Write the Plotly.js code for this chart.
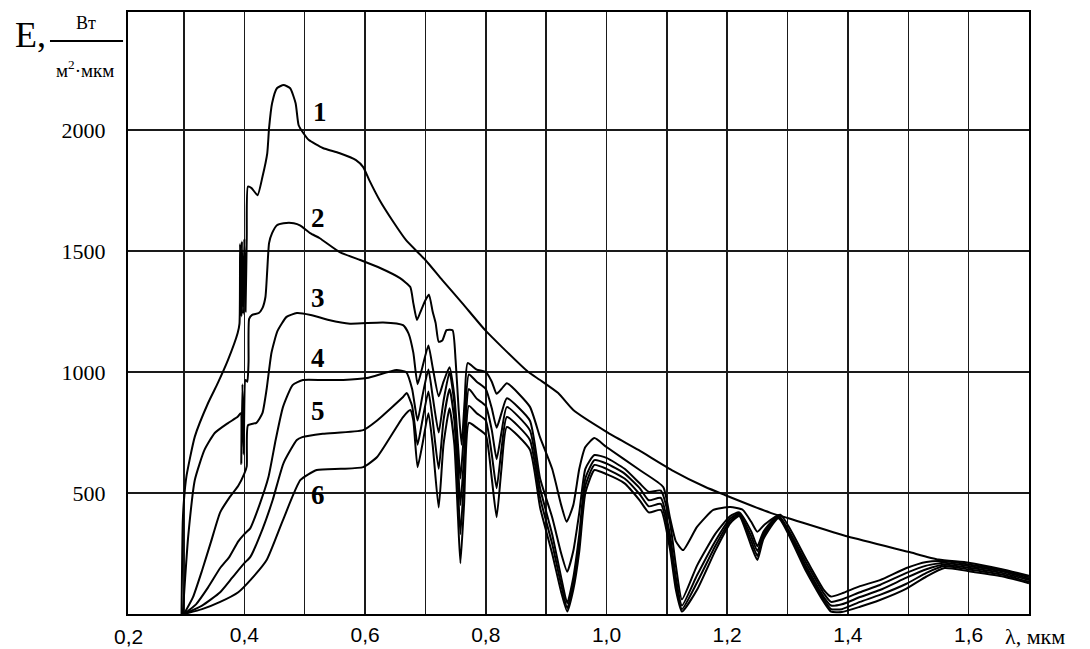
<!DOCTYPE html>
<html>
<head>
<meta charset="utf-8">
<script src="https://cdn.plot.ly/plotly-3.0.1.min.js"></script>
<style>html,body{margin:0;padding:0;background:#fff;}#chart{width:1090px;height:649px;}</style>
</head>
<body>
<div id="chart"></div>
<script>
// Curve 1
var x1 = [0.296,0.298,0.300,0.304,0.318,0.340,0.356,0.373,0.389,0.392,0.393,0.395,0.396,0.398,0.400,0.402,0.404,0.406,0.412,0.422,0.430,0.438,0.441,0.446,0.454,0.465,0.476,0.485,0.490,0.498,0.507,0.530,0.557,0.585,0.597,0.607,0.624,0.647,0.668,0.700,0.728,0.761,0.799,0.827,0.870,0.890,0.920,0.945,1.000,1.053,1.108,1.163,1.196,1.273,1.300,1.400,1.500,1.550,1.600,1.655,1.700];
var y1 = [0,380,470,567,733,872,954,1050,1161,1200,1530,1230,1540,1240,1550,1250,1555,1766,1760,1731,1806,1904,2008,2111,2173,2186,2173,2111,2020,1987,1959,1926,1905,1876,1847,1793,1711,1620,1545,1463,1380,1285,1173,1103,1001,967,913,843,753,678,595,526,492,417,397,320,257,225,212,185,158];
// Curve 2
var x2 = [0.298,0.302,0.307,0.318,0.334,0.351,0.373,0.389,0.394,0.395,0.397,0.399,0.402,0.405,0.407,0.408,0.413,0.424,0.430,0.435,0.438,0.441,0.446,0.454,0.465,0.482,0.493,0.509,0.525,0.558,0.592,0.625,0.658,0.675,0.680,0.686,0.692,0.700,0.706,0.712,0.717,0.722,0.728,0.735,0.745,0.750,0.755,0.760,0.765,0.770,0.785,0.800,0.810,0.818,0.826,0.835,0.873,0.890,0.910,0.925,0.934,0.945,0.955,0.965,0.980,1.000,1.055,1.094,1.105,1.115,1.127,1.150,1.177,1.205,1.226,1.240,1.250,1.262,1.288,1.330,1.360,1.372,1.390,1.420,1.453,1.497,1.530,1.560,1.600,1.655,1.700];
var y2 = [0,150,320,554,678,748,789,815,830,620,950,660,967,960,1040,1220,1236,1244,1264,1310,1421,1533,1574,1607,1615,1615,1605,1574,1553,1496,1463,1430,1388,1351,1285,1215,1250,1297,1320,1250,1202,1125,1130,1173,1173,1050,850,700,880,1037,1010,1000,960,910,930,954,857,730,600,450,381,450,600,690,727,690,595,525,400,300,264,360,430,442,430,380,340,370,410,230,100,72,85,115,140,190,215,218,205,182,152];
// Curve 3
var x3 = [0.300,0.315,0.330,0.345,0.360,0.375,0.390,0.400,0.404,0.406,0.420,0.430,0.437,0.445,0.455,0.470,0.487,0.510,0.540,0.575,0.630,0.663,0.672,0.680,0.687,0.695,0.705,0.712,0.722,0.730,0.740,0.748,0.754,0.758,0.764,0.772,0.785,0.800,0.810,0.818,0.826,0.835,0.873,0.890,0.910,0.925,0.935,0.945,0.955,0.965,0.980,1.000,1.030,1.055,1.070,1.090,1.105,1.115,1.125,1.150,1.180,1.205,1.220,1.240,1.250,1.260,1.285,1.330,1.360,1.372,1.390,1.420,1.453,1.497,1.530,1.560,1.600,1.655,1.700];
var y3 = [0,70,180,300,420,480,530,580,610,780,790,830,930,1080,1170,1228,1244,1236,1215,1200,1205,1194,1160,1080,950,1020,1110,1020,900,960,1020,900,700,560,750,990,960,930,850,770,830,892,800,560,400,250,175,260,420,600,657,645,600,540,505,510,380,200,60,200,330,405,420,340,280,340,407,215,85,50,60,90,120,170,200,212,198,177,146];
// Curve 4
var x4 = [0.300,0.320,0.340,0.360,0.375,0.390,0.400,0.410,0.425,0.440,0.452,0.464,0.480,0.497,0.530,0.564,0.603,0.652,0.668,0.678,0.687,0.695,0.705,0.712,0.722,0.730,0.740,0.748,0.754,0.758,0.764,0.772,0.785,0.800,0.810,0.818,0.826,0.835,0.873,0.890,0.910,0.925,0.935,0.945,0.955,0.965,0.980,1.000,1.030,1.055,1.070,1.090,1.105,1.115,1.125,1.150,1.180,1.205,1.220,1.240,1.250,1.260,1.285,1.330,1.360,1.372,1.390,1.420,1.453,1.497,1.530,1.560,1.600,1.655,1.700];
var y4 = [0,40,110,190,235,300,330,355,450,566,720,855,946,967,967,967,975,1008,1000,930,800,900,1010,900,750,880,1000,870,620,450,650,930,890,860,760,640,750,855,760,520,330,150,45,150,330,560,636,622,580,520,470,480,330,150,35,160,300,395,415,320,260,330,404,200,70,35,40,70,99,150,185,205,191,170,140];
// Curve 5
var x5 = [0.300,0.330,0.360,0.380,0.400,0.410,0.430,0.447,0.465,0.487,0.496,0.530,0.597,0.620,0.663,0.669,0.678,0.687,0.695,0.705,0.712,0.722,0.730,0.740,0.748,0.754,0.758,0.764,0.772,0.785,0.800,0.810,0.818,0.826,0.835,0.873,0.890,0.910,0.925,0.935,0.945,0.955,0.965,0.980,1.000,1.030,1.055,1.070,1.090,1.105,1.115,1.125,1.150,1.180,1.205,1.220,1.240,1.250,1.260,1.285,1.330,1.360,1.372,1.390,1.420,1.453,1.497,1.530,1.560,1.600,1.655,1.700];
var y5 = [0,35,90,150,210,236,350,471,624,719,731,745,760,800,897,913,860,700,800,920,800,600,800,930,800,520,330,560,860,830,800,660,520,680,814,720,480,290,120,25,120,290,530,616,600,560,495,445,455,300,120,20,130,280,385,410,300,240,320,400,190,60,20,20,50,79,125,170,198,184,163,133];
// Curve 6
var x6 = [0.300,0.330,0.360,0.390,0.410,0.437,0.464,0.493,0.520,0.560,0.597,0.620,0.663,0.675,0.680,0.687,0.695,0.705,0.712,0.722,0.730,0.740,0.748,0.754,0.758,0.764,0.772,0.785,0.800,0.810,0.818,0.826,0.835,0.873,0.890,0.910,0.925,0.935,0.945,0.955,0.965,0.980,1.000,1.030,1.055,1.070,1.090,1.105,1.115,1.125,1.150,1.180,1.205,1.220,1.240,1.250,1.260,1.285,1.330,1.360,1.372,1.390,1.420,1.453,1.497,1.530,1.560,1.600,1.655,1.700];
var y6 = [0,20,50,90,140,223,388,554,595,600,607,649,814,843,800,607,700,830,700,440,700,850,700,400,210,450,790,770,740,560,400,600,773,680,440,250,90,10,100,260,500,595,578,540,470,420,430,270,100,10,100,260,375,405,280,223,310,396,180,50,10,8,30,58,105,155,190,177,156,127];

var curveNames = ['1','2','3','4','5','6'];
var labelX = [0.525,0.522,0.522,0.522,0.522,0.522];
var labelY = [2075,1637,1306,1058,839,492];
var yTicks = [500,1000,1500,2000];
var yTickText = ['500','1000','1500','2000'];
var xTicks = [0.4,0.6,0.8,1.0,1.2,1.4,1.6];
var xTickText = ['0,4','0,6','0,8','1,0','1,2','1,4','1,6'];
var xMinorGrid = [0.3,0.5,0.7,0.9,1.1,1.3,1.5];

var xs = [x1,x2,x3,x4,x5,x6];
var ys = [y1,y2,y3,y4,y5,y6];
var traces = xs.map(function(x,i){
  return {x:x, y:ys[i], type:'scatter', mode:'lines', name:curveNames[i],
    line:{color:'#000', width:2, shape:'spline', smoothing:0.5}, hoverinfo:'skip', showlegend:false};
});

var serif = 'Liberation Serif, Times New Roman, serif';
var sans = 'Liberation Sans, Arial, sans-serif';
var ann = curveNames.map(function(n,i){
  return {x:labelX[i], y:labelY[i], xref:'x', yref:'y', text:'<b>'+n+'</b>', showarrow:false,
    xanchor:'center', yanchor:'middle', font:{family:serif, size:27, color:'#000'}};
});
ann.push({xref:'paper', yref:'paper', x:0, y:-0.038, text:'0,2', showarrow:false, xanchor:'center', yanchor:'middle',
  font:{family:sans, size:21, color:'#000'}});
ann.push({xref:'paper', yref:'paper', x:0.971, y:-0.038, text:'λ, мкм', showarrow:false, xanchor:'left', yanchor:'middle',
  font:{family:serif, size:22, color:'#000'}});
ann.push({xref:'paper', yref:'paper', x:-0.1276, y:0.962, text:'E,', showarrow:false, xanchor:'left', yanchor:'middle',
  font:{family:serif, size:36, color:'#000'}});
ann.push({xref:'paper', yref:'paper', x:-0.0466, y:0.982, text:'Вт', showarrow:false, xanchor:'center', yanchor:'middle',
  font:{family:serif, size:18, color:'#000'}});
ann.push({xref:'paper', yref:'paper', x:-0.0477, y:0.906, text:'м<sup>2</sup>·мкм', showarrow:false, xanchor:'center', yanchor:'middle',
  font:{family:serif, size:19, color:'#000'}});

var gridCol = '#1a1a1a';
var layout = {
  width:1090, height:649,
  margin:{l:128, r:61, t:12, b:35, pad:0},
  paper_bgcolor:'#fff', plot_bgcolor:'#fff',
  separators:', ',
  xaxis:{range:[0.2073,1.7], tickmode:'array', tickvals:xTicks, ticktext:xTickText,
    showgrid:true, gridcolor:gridCol, gridwidth:1.5, zeroline:false,
    minor:{tickmode:'array', tickvals:xMinorGrid, showgrid:true, gridcolor:gridCol, gridwidth:1.5, ticks:''},
    showline:true, mirror:true, linecolor:'#000', linewidth:2, ticks:'',
    ticklabelstandoff:1,
    tickfont:{family:sans, size:21, color:'#000'}},
  yaxis:{range:[0,2488], tickmode:'array', tickvals:yTicks, ticktext:yTickText,
    showgrid:true, gridcolor:gridCol, gridwidth:1.5, zeroline:false,
    showline:true, mirror:true, linecolor:'#000', linewidth:2, ticks:'',
    ticklabelstandoff:16,
    tickfont:{family:serif, size:22, color:'#000'}},
  annotations:ann,
  shapes:[{type:'line', xref:'paper', yref:'paper', x0:-0.0866, x1:-0.0055, y0:0.9518, y1:0.9518,
    line:{color:'#000', width:2}}]
};
Plotly.newPlot('chart', traces, layout, {staticPlot:true, displayModeBar:false});
</script>
</body>
</html>
